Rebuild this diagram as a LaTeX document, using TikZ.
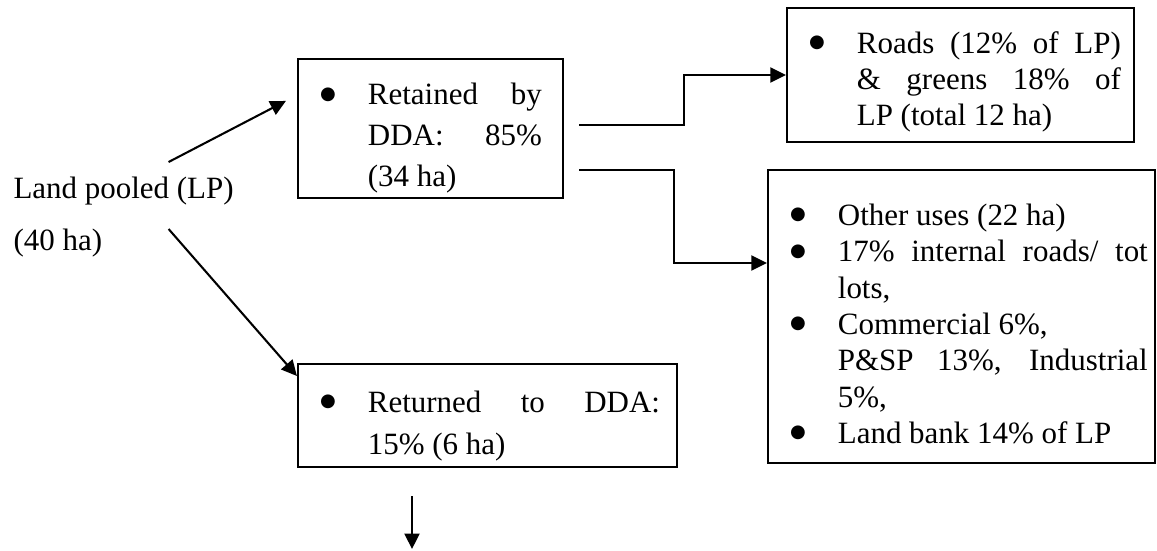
\documentclass[tikz,border=0pt]{standalone}
\usepackage{fontspec}
\setmainfont{Liberation Serif}
\newfontfamily\symfont{DejaVu Sans}
\usetikzlibrary{arrows.meta}
\newlength{\boxrskip}
\newcommand{\bigdot}{\raisebox{2.2pt}{\symfont\fontsize{7pt}{7pt}\selectfont ●}}
\newcommand{\bitem}[1]{\par\noindent\hangindent=27.1pt\hangafter=1\rightskip=\boxrskip\relax
	\spaceskip=0pt\relax\xspaceskip=0pt\relax\parfillskip=0pt plus 1fil\relax
	\hspace*{8.6pt}\makebox[18.5pt][l]{\bigdot}#1\par}
\tikzset{box/.style={draw, line width=0.8pt, inner sep=0pt},
	arr/.style={line width=0.8pt, -{Triangle[length=6pt,width=5.8pt]}}
}

\begin{document}
\begin{tikzpicture}[x=0.3875pt, y=-0.3875pt]
	\useasboundingbox (0,0) rectangle (1157,550);
	\node[anchor=base west, align=left, inner sep=0pt, font=\fontsize{12pt}{14.4pt}\selectfont] (lp) at (13,250) {Land pooled (LP)\\[5.75pt](40 ha)};
	\node[box, text width=102.7pt, minimum height=53.9pt, font=\fontsize{12pt}{15.9pt}\selectfont] (ret) at (430.5,128.5)
		{\setlength{\boxrskip}{8.2pt}\bitem{Retained by\linebreak DDA: 85\%\linebreak (34 ha)}};
	\node[box, text width=134.5pt, minimum height=51.9pt, font=\fontsize{12pt}{14pt}\selectfont] (roads) at (960.5,75)
		{\setlength{\boxrskip}{5.1pt}\bitem{Roads (12\% of LP)\linebreak \& greens 18\% of\linebreak LP (total 12 ha)}};
	\node[box, text width=150pt, minimum height=113.5pt, font=\fontsize{12pt}{14.1pt}\selectfont] (other) at (961.5,316.5)
		{\setlength{\boxrskip}{2.8pt}
		\bitem{Other uses (22 ha)}
		\bitem{17\% internal roads/ tot\linebreak lots,}
		\bitem{Commercial 6\%,\newline P\&SP 13\%, Industrial\linebreak 5\%,}
		\bitem{Land bank 14\% of LP}};
	\node[box, text width=146.9pt, minimum height=39.9pt, font=\fontsize{12pt}{16.3pt}\selectfont] (rtn) at (487.5,415.5)
		{\setlength{\boxrskip}{6.6pt}\bitem{Returned to DDA:\linebreak 15\% (6 ha)}};
	% arrows
	\draw[arr] ([shift={(45,-14)}]lp.north) -- ([shift={(-11,43)}]ret.north west);
	\draw[arr] ([shift={(45,53)}]lp.north) -- ([shift={(0,13)}]rtn.north west);
	\draw[arr] ([shift={(15,-3.5)}]ret.east) -- ++(105,0) |- (roads.west);
	\draw[arr] ([shift={(15,41.5)}]ret.east) -- ++(95,0) |- ([shift={(0,-53.5)}]other.west);
	\draw[arr] ([shift={(-75.5,28)}]rtn.south) -- ++(0,53);
\end{tikzpicture}
\end{document}
